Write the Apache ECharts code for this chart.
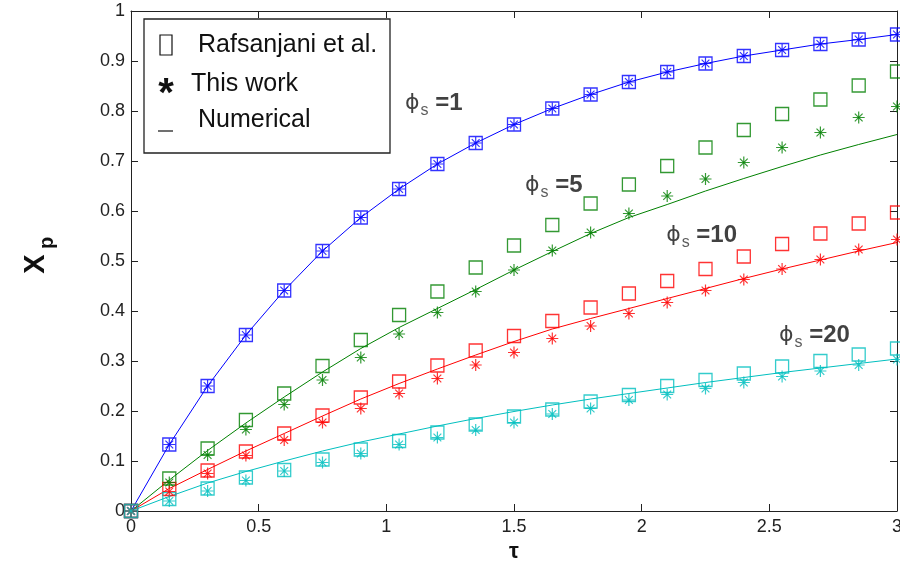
<!DOCTYPE html>
<html>
<head>
<meta charset="utf-8">
<script src="https://cdn.jsdelivr.net/npm/echarts@6/dist/echarts.min.js"></script>
<style>
  html, body { margin: 0; padding: 0; background: #fff; }
  #chart { width: 900px; height: 567px; }
</style>
</head>
<body>
<div id="chart"></div>
<script>
// Dimensionless time τ
const tau = [0, 0.15, 0.3, 0.45, 0.6, 0.75, 0.9, 1.05, 1.2, 1.35, 1.5,
             1.65, 1.8, 1.95, 2.1, 2.25, 2.4, 2.55, 2.7, 2.85, 3.0];

// φs = 1
const phi1Numerical = [0, 0.133, 0.25, 0.352, 0.441, 0.52, 0.587, 0.644, 0.694, 0.736, 0.773,
                       0.805, 0.833, 0.858, 0.878, 0.895, 0.91, 0.922, 0.934, 0.943, 0.953];
const phi1Rafsanjani = [0, 0.133, 0.25, 0.352, 0.441, 0.52, 0.587, 0.644, 0.694, 0.736, 0.773,
                        0.805, 0.833, 0.858, 0.878, 0.895, 0.91, 0.922, 0.934, 0.943, 0.953];
const phi1ThisWork = [0, 0.133, 0.25, 0.352, 0.441, 0.52, 0.587, 0.644, 0.694, 0.736, 0.773,
                      0.805, 0.833, 0.858, 0.878, 0.895, 0.91, 0.922, 0.934, 0.943, 0.953];

// φs = 5
const phi5Numerical = [0, 0.062, 0.121, 0.176, 0.228, 0.278, 0.325, 0.367, 0.405, 0.443, 0.482,
                       0.519, 0.555, 0.587, 0.613, 0.64, 0.665, 0.689, 0.712, 0.733, 0.753];
const phi5Rafsanjani = [0, 0.065, 0.125, 0.182, 0.235, 0.29, 0.342, 0.392, 0.439, 0.487, 0.531,
                        0.572, 0.615, 0.653, 0.69, 0.727, 0.762, 0.794, 0.823, 0.851, 0.879];
const phi5ThisWork = [0, 0.057, 0.112, 0.163, 0.213, 0.262, 0.307, 0.354, 0.397, 0.439, 0.482,
                      0.521, 0.557, 0.595, 0.63, 0.664, 0.697, 0.727, 0.757, 0.787, 0.809];

// φs = 10
const phi10Numerical = [0, 0.045, 0.083, 0.12, 0.155, 0.19, 0.224, 0.255, 0.284, 0.312, 0.339,
                        0.364, 0.385, 0.405, 0.425, 0.445, 0.465, 0.484, 0.502, 0.52, 0.537];
const phi10Rafsanjani = [0, 0.044, 0.081, 0.119, 0.155, 0.191, 0.227, 0.259, 0.291, 0.321, 0.35,
                         0.38, 0.407, 0.435, 0.46, 0.484, 0.509, 0.534, 0.555, 0.575, 0.597];
const phi10ThisWork = [0, 0.039, 0.075, 0.111, 0.142, 0.177, 0.205, 0.235, 0.265, 0.292, 0.317,
                       0.345, 0.37, 0.395, 0.417, 0.441, 0.463, 0.484, 0.503, 0.523, 0.543];

// φs = 20
const phi20Numerical = [0, 0.029, 0.056, 0.079, 0.1, 0.12, 0.138, 0.154, 0.17, 0.185, 0.199,
                        0.212, 0.224, 0.235, 0.246, 0.257, 0.267, 0.277, 0.286, 0.295, 0.304];
const phi20Rafsanjani = [0, 0.024, 0.045, 0.067, 0.082, 0.103, 0.123, 0.14, 0.157, 0.173, 0.189,
                         0.203, 0.219, 0.232, 0.25, 0.262, 0.275, 0.289, 0.3, 0.313, 0.325];
const phi20ThisWork = [0, 0.02, 0.04, 0.061, 0.08, 0.097, 0.115, 0.133, 0.147, 0.162, 0.177,
                       0.194, 0.205, 0.222, 0.233, 0.245, 0.257, 0.269, 0.28, 0.292, 0.303];

const legendLabels = ['Rafsanjani et al.', 'This work', 'Numerical'];
const phiValues = ['1', '5', '10', '20'];

// ---------------------------------------------------------------
const FONT = '"Liberation Sans", Arial, Helvetica, sans-serif';
const groups = [
  { phi: '1',  color: '#0000ff', num: phi1Numerical,  ref: phi1Rafsanjani,  work: phi1ThisWork,  label: [1.073, 0.816] },
  { phi: '5',  color: '#008000', num: phi5Numerical,  ref: phi5Rafsanjani,  work: phi5ThisWork,  label: [1.543, 0.652] },
  { phi: '10', color: '#ff0000', num: phi10Numerical, ref: phi10Rafsanjani, work: phi10ThisWork, label: [2.096, 0.552] },
  { phi: '20', color: '#00bfbf', num: phi20Numerical, ref: phi20Rafsanjani, work: phi20ThisWork, label: [2.538, 0.352] }
];

// asterisk marker: plus + cross strokes with a small filled core
const STAR = 'path://M10 0L10 20M0 10L20 10M3.5 3.5L16.5 16.5M16.5 3.5L3.5 16.5M8.6 8.6L11.4 8.6L11.4 11.4L8.6 11.4Z';

const pairs = ys => tau.map((t, i) => [t, ys[i]]);

const series = [];
groups.forEach(g => {
  series.push({
    type: 'line', name: legendLabels[2] + ' ' + g.phi, data: pairs(g.num),
    showSymbol: false, symbol: 'none', silent: true, z: 2,
    lineStyle: { color: g.color, width: 1 }
  });
});
groups.forEach(g => {
  series.push({
    type: 'scatter', name: legendLabels[0] + ' ' + g.phi, data: pairs(g.ref),
    symbol: 'rect', symbolSize: 13, silent: true, z: 3,
    itemStyle: { color: 'rgba(0,0,0,0)', borderColor: g.color, borderWidth: 1.3 }
  });
  series.push({
    type: 'scatter', name: legendLabels[1] + ' ' + g.phi, data: pairs(g.work),
    symbol: STAR, symbolSize: 12, silent: true, z: 4,
    itemStyle: { color: g.color, borderColor: g.color, borderWidth: 1.2 }
  });
});
// φs annotations anchored in data space
series.push({
  type: 'scatter', name: 'annotations', silent: true, z: 5,
  symbolSize: 0,
  data: groups.map((g, i) => ({ value: g.label, phiText: phiValues[i] })),
  label: {
    show: true, position: 'right', distance: 0,
    formatter: p => '{phi|ϕ}{sub|s}{val| =' + p.data.phiText + '}',
    rich: {
      phi: { fontFamily: '"DejaVu Sans", sans-serif', fontSize: 22, color: '#111', lineHeight: 40, verticalAlign: 'middle' },
      sub: { fontFamily: FONT, fontSize: 16, color: '#333', lineHeight: 16, verticalAlign: 'bottom', padding: [0, 0, 4, 1] },
      val: { fontFamily: FONT, fontSize: 24, fontWeight: 'bold', color: '#111', lineHeight: 40, verticalAlign: 'middle' }
    }
  }
});

const axisLineStyle = { color: '#222', width: 1 };
const tickStyle = { show: true, inside: true, length: 7, lineStyle: { color: '#222', width: 1 } };
const labelStyle = { fontFamily: FONT, fontSize: 18, color: '#222' };

const option = {
  animation: false,
  backgroundColor: '#fff',
  grid: { left: 131, right: 3, top: 11, bottom: 56, containLabel: false, outerBoundsMode: 'none' },
  xAxis: [
    {
      type: 'value', min: 0, max: 3, interval: 0.5, position: 'bottom',
      axisLine: { show: true, lineStyle: axisLineStyle },
      axisTick: tickStyle, splitLine: { show: false },
      axisLabel: Object.assign({ margin: 7 }, labelStyle),
      name: 'τ', nameLocation: 'middle', nameGap: 27,
      nameTextStyle: { fontFamily: FONT, fontSize: 22, fontWeight: 'bold', color: '#111' }
    },
    {
      type: 'value', min: 0, max: 3, interval: 0.5, position: 'top',
      axisLine: { show: true, onZero: false, lineStyle: axisLineStyle },
      axisTick: tickStyle, splitLine: { show: false }, axisLabel: { show: false }
    }
  ],
  yAxis: [
    {
      type: 'value', min: 0, max: 1, interval: 0.1, position: 'left',
      axisLine: { show: true, lineStyle: axisLineStyle },
      axisTick: tickStyle, splitLine: { show: false },
      axisLabel: Object.assign({ margin: 6 }, labelStyle)
    },
    {
      type: 'value', min: 0, max: 1, interval: 0.1, position: 'right',
      axisLine: { show: true, onZero: false, lineStyle: axisLineStyle },
      axisTick: tickStyle, splitLine: { show: false }, axisLabel: { show: false }
    }
  ],
  series: series,
  graphic: [
    // y-axis title X_p
    { type: 'text', x: 36, y: 264, rotation: Math.PI / 2, silent: true,
      style: { text: 'X', font: 'bold 29px ' + FONT, fill: '#111', align: 'center', verticalAlign: 'middle' } },
    { type: 'text', x: 47, y: 243, rotation: Math.PI / 2, silent: true,
      style: { text: 'p', font: 'bold 20px ' + FONT, fill: '#111', align: 'center', verticalAlign: 'middle' } },
    // legend box
    { type: 'rect', silent: true, z: 10,
      shape: { x: 144, y: 19, width: 246, height: 134 },
      style: { fill: '#fff', stroke: '#222', lineWidth: 1.3 } },
    { type: 'rect', silent: true, z: 11,
      shape: { x: 160, y: 35, width: 12, height: 20 },
      style: { fill: 'none', stroke: '#111', lineWidth: 1.2 } },
    { type: 'text', silent: true, z: 11, x: 198, y: 45,
      style: { text: legendLabels[0], font: '25px ' + FONT, fill: '#111', verticalAlign: 'middle' } },
    { type: 'text', silent: true, z: 11, x: 166, y: 95,
      style: { text: '*', font: 'bold 40px ' + FONT, fill: '#111', align: 'center', verticalAlign: 'middle' } },
    { type: 'text', silent: true, z: 11, x: 191, y: 84,
      style: { text: legendLabels[1], font: '25px ' + FONT, fill: '#111', verticalAlign: 'middle' } },
    { type: 'line', silent: true, z: 11,
      shape: { x1: 158, y1: 131, x2: 173, y2: 131 },
      style: { stroke: '#111', lineWidth: 1.2 } },
    { type: 'text', silent: true, z: 11, x: 198, y: 120,
      style: { text: legendLabels[2], font: '25px ' + FONT, fill: '#111', verticalAlign: 'middle' } }
  ]
};

const chart = echarts.init(document.getElementById('chart'), null, { renderer: 'canvas' });
chart.setOption(option);
</script>
</body>
</html>
